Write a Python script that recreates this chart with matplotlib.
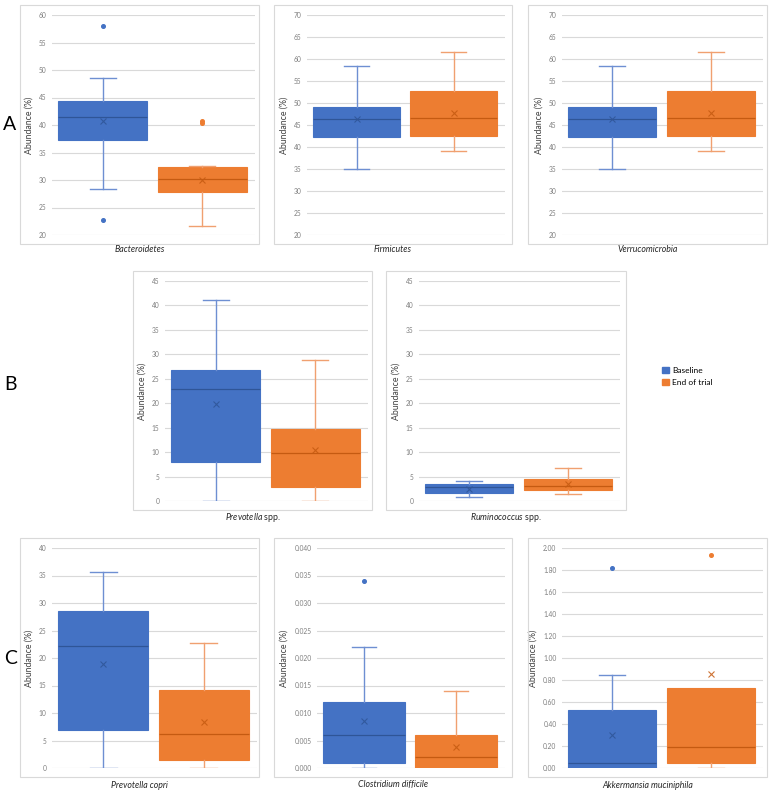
import matplotlib
matplotlib.use("Agg")
import matplotlib.pyplot as plt
from matplotlib.patches import Rectangle, Patch
from matplotlib.ticker import FormatStrFormatter, MultipleLocator

plt.rcParams['font.family'] = ['Lato', 'DejaVu Sans']
plt.rcParams['mathtext.fontset'] = 'custom'
plt.rcParams['mathtext.it'] = 'Lato:italic'
plt.rcParams['mathtext.rm'] = 'Lato'

# ---------------- data ----------------
categories = ["Bacteroidetes", "Firmicutes", "Verrucomicrobia",
              "Prevotella spp.", "Ruminococcus spp.",
              "Prevotella copri", "Clostridium difficile", "Akkermansia muciniphila"]
series_names = ["Baseline", "End of trial"]

base_lo = [28.3, 35.1, 35.1, 0.0, 0.8, 0.0, 0.0, 0.0]
base_q1 = [37.2, 42.2, 42.2, 8.0, 1.55, 6.95, 0.001, 0.0]
base_med = [41.5, 46.25, 46.25, 22.9, 2.85, 22.2, 0.006, 0.05]
base_q3 = [44.3, 49.2, 49.2, 26.7, 3.5, 28.6, 0.012, 0.526]
base_hi = [48.6, 58.4, 58.4, 41.2, 4.0, 35.65, 0.022, 0.843]
base_mean = [40.7, 46.4, 46.4, 19.75, 2.45, 19.0, 0.0085, 0.30]
base_fliers = [[58.0, 22.8], [], [], [], [], [], [0.034], [1.816]]

end_lo = [21.6, 39.2, 39.2, 0.0, 1.4, 0.0, 0.0, 0.0]
end_q1 = [27.9, 42.5, 42.5, 2.85, 2.3, 1.45, 0.0, 0.05]
end_med = [30.2, 46.5, 46.5, 9.9, 3.1, 6.15, 0.002, 0.19]
end_q3 = [32.3, 52.7, 52.7, 14.7, 4.55, 14.2, 0.006, 0.725]
end_hi = [32.6, 61.5, 61.5, 28.8, 6.65, 22.65, 0.014, 0.725]
end_mean = [30.05, 47.8, 47.8, 10.4, 3.5, 8.45, 0.0038, 0.855]
end_fliers = [[40.75, 40.3], [], [], [], [], [], [], [1.934]]

y_min = [20, 20, 20, 0, 0, 0, 0, 0]
y_max = [60, 70, 70, 45, 45, 40, 0.040, 2.00]
y_step = [5, 5, 5, 5, 5, 5, 0.005, 0.20]
y_fmt = ["%d", "%d", "%d", "%d", "%d", "%d", "%.3f", "%.2f"]

# ---------------- layout (pixels) ----------------
W, H = 776, 795
fig = plt.figure(figsize=(W / 100, H / 100), dpi=100)

plot_px = [(52, 255, 15, 235), (307, 505, 15, 235), (562, 763, 15, 235),
           (165, 368, 281, 501), (419, 620, 281, 501),
           (52, 257, 548, 768), (317, 505, 548, 768), (562, 763, 548, 768)]
border_px = [(20, 259, 5, 244), (274, 512, 5, 244), (528, 767, 5, 244),
             (133, 372, 271, 510), (386, 626, 271, 510),
             (20, 259, 538, 777), (274, 512, 538, 777), (528, 767, 538, 777)]
xlabel_y = [250, 250, 250, 517, 517, 785, 785, 785]
xlabel_txt = [r"Bacteroidetes", r"Firmicutes", r"Verrucomicrobia",
              r"$\it{Prevotella}$ spp.", r"$\it{Ruminococcus}$ spp.",
              r"Prevotella copri", r"Clostridium difficile", r"Akkermansia muciniphila"]

BLUE, ORANGE = "#4472C4", "#ED7D31"
BLUE_D, ORANGE_D = "#2F5597", "#C55A11"
BLUE_W, ORANGE_W = "#6E8FD2", "#F0A070"

for i in range(len(categories)):
    l, r, t, b = plot_px[i]
    ax = fig.add_axes([l / W, 1 - b / H, (r - l) / W, (b - t) / H])
    bl, br, bt, bb = border_px[i]
    fig.add_artist(Rectangle((bl / W, 1 - bb / H), (br - bl) / W, (bb - bt) / H,
                             transform=fig.transFigure, fill=False,
                             ec="#D9D9D9", lw=0.8))
    stats = [
        dict(whislo=base_lo[i], q1=base_q1[i], med=base_med[i], q3=base_q3[i],
             whishi=base_hi[i], mean=base_mean[i], fliers=base_fliers[i]),
        dict(whislo=end_lo[i], q1=end_q1[i], med=end_med[i], q3=end_q3[i],
             whishi=end_hi[i], mean=end_mean[i], fliers=end_fliers[i]),
    ]
    positions = [0.25, 0.74]
    for s, pos, fc, dc, wc in zip(stats, positions, [BLUE, ORANGE],
                                  [BLUE_D, ORANGE_D], [BLUE_W, ORANGE_W]):
        art = ax.bxp([s], positions=[pos], widths=0.44, capwidths=0.13,
                     patch_artist=True, showmeans=True, showfliers=True,
                     boxprops=dict(facecolor=fc, edgecolor=fc, linewidth=0.8),
                     medianprops=dict(color=dc, linewidth=0.9),
                     whiskerprops=dict(color=wc, linewidth=1.0),
                     capprops=dict(color=wc, linewidth=1.0),
                     meanprops=dict(marker='x', markeredgecolor=dc, markersize=5,
                                    markeredgewidth=0.8, alpha=0.85),
                     flierprops=dict(marker='o', markerfacecolor=fc, markeredgecolor=fc,
                                     markersize=2.6),
                     zorder=3)
        # hide caps of zero-length whiskers (Excel draws none there)
        for whisk, cap in zip(art['whiskers'], art['caps']):
            yd = whisk.get_ydata()
            if abs(yd[1] - yd[0]) < 1e-12:
                cap.set_visible(False)
    ax.set_xlim(0, 1)
    ax.set_ylim(y_min[i], y_max[i])
    ax.yaxis.set_major_locator(MultipleLocator(y_step[i]))
    ax.yaxis.set_major_formatter(FormatStrFormatter(y_fmt[i]))
    ax.set_xticks([])
    ax.tick_params(axis='y', length=0, pad=4, labelsize=4.8, labelcolor="#7F7F7F")
    ax.grid(axis='y', color="#D9D9D9", linewidth=0.8, zorder=0)
    ax.set_axisbelow(True)
    for sp in ax.spines.values():
        sp.set_visible(False)
    ax.set_ylabel("Abundance (%)", fontsize=6.3, color="#404040", labelpad=4)
    style = 'normal' if '$' in xlabel_txt[i] else 'italic'
    fig.text((bl + br) / 2 / W, 1 - xlabel_y[i] / H, xlabel_txt[i], ha='center',
             va='center', fontsize=6.3, style=style, color="#262626")

# panel letters
for letter, (x, y) in zip("ABC", [(10, 125), (10, 385), (11, 659)]):
    fig.text(x / W, 1 - y / H, letter, ha='center', va='center', fontsize=14,
             color="#000000")

handles = [Patch(facecolor=BLUE, edgecolor=BLUE), Patch(facecolor=ORANGE, edgecolor=ORANGE)]
fig.legend(handles, series_names, loc='upper left',
           bbox_to_anchor=(662 / W, 1 - 367 / H), frameon=False, fontsize=6,
           handlelength=0.8, handleheight=0.8, handletextpad=0.4, labelspacing=0.6,
           borderpad=0, borderaxespad=0)

fig.savefig("out.png", dpi=100, facecolor="white")
